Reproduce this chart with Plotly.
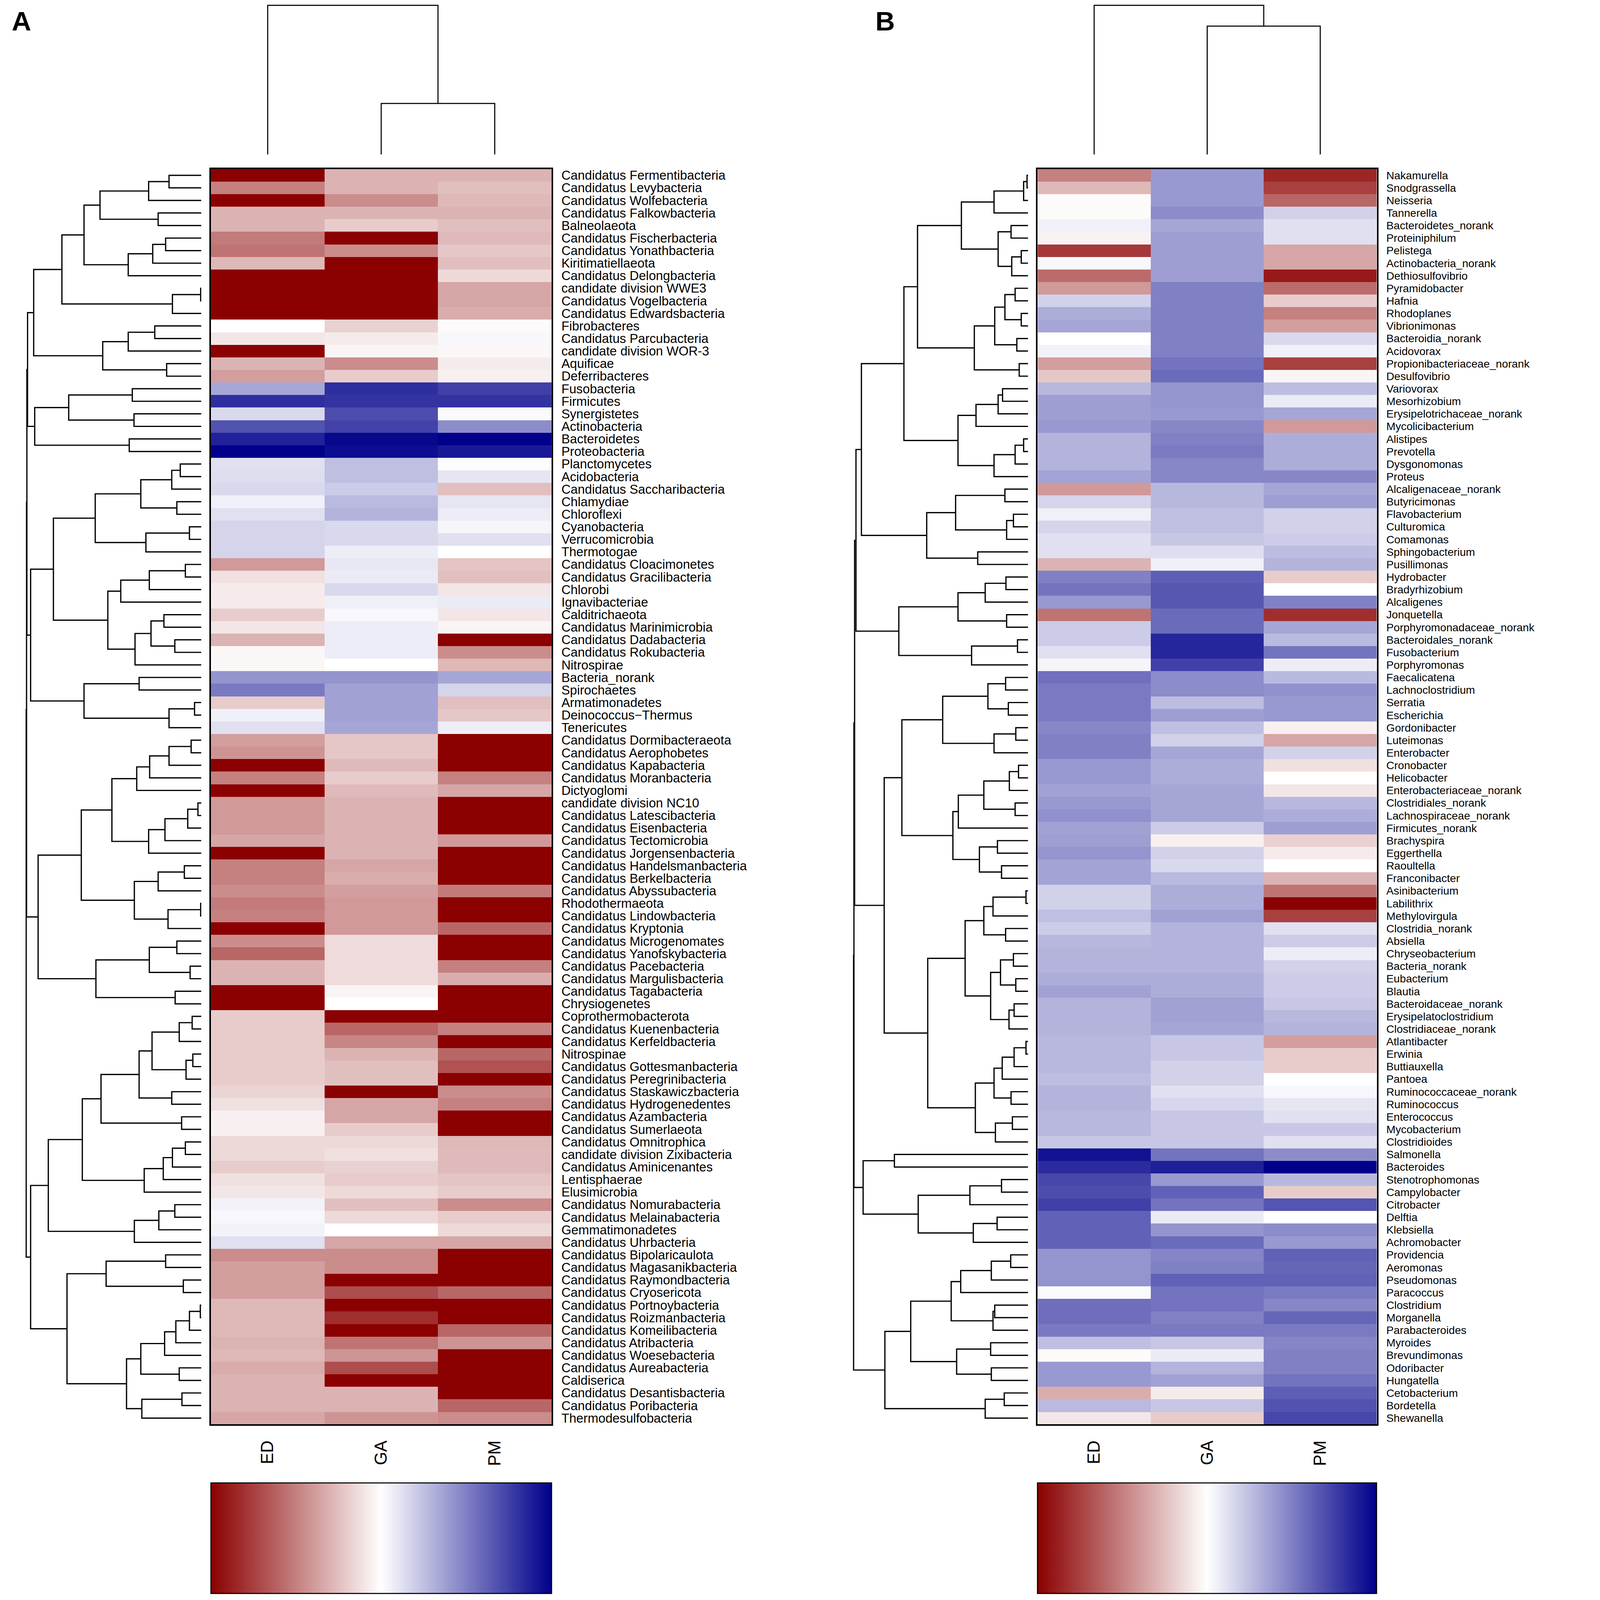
"""
Clustered heatmaps (phylum level A, genus level B) with row/column dendrograms
"""
import plotly.graph_objects as go

# target picture size and how the browser maps figure px onto it
W, H = 4328, 4499
S = 1.1      # page zoom seen in the photographed window
OFF = 8      # body margin of the html page
FW = int(W / S - OFF)
FH = int(H / S - OFF)

SAMPLES = ['ED', 'GA', 'PM']

# ---------------- Panel A: phyla ----------------
LABELS_A = [
    'Candidatus Fermentibacteria', 'Candidatus Levybacteria', 'Candidatus Wolfebacteria',
    'Candidatus Falkowbacteria', 'Balneolaeota', 'Candidatus Fischerbacteria',
    'Candidatus Yonathbacteria', 'Kiritimatiellaeota', 'Candidatus Delongbacteria',
    'candidate division WWE3', 'Candidatus Vogelbacteria', 'Candidatus Edwardsbacteria',
    'Fibrobacteres', 'Candidatus Parcubacteria', 'candidate division WOR-3', 'Aquificae',
    'Deferribacteres', 'Fusobacteria', 'Firmicutes', 'Synergistetes', 'Actinobacteria',
    'Bacteroidetes', 'Proteobacteria', 'Planctomycetes', 'Acidobacteria',
    'Candidatus Saccharibacteria', 'Chlamydiae', 'Chloroflexi', 'Cyanobacteria',
    'Verrucomicrobia', 'Thermotogae', 'Candidatus Cloacimonetes', 'Candidatus Gracilibacteria',
    'Chlorobi', 'Ignavibacteriae', 'Calditrichaeota', 'Candidatus Marinimicrobia',
    'Candidatus Dadabacteria', 'Candidatus Rokubacteria', 'Nitrospirae', 'Bacteria_norank',
    'Spirochaetes', 'Armatimonadetes', 'Deinococcus\u2212Thermus', 'Tenericutes',
    'Candidatus Dormibacteraeota', 'Candidatus Aerophobetes', 'Candidatus Kapabacteria',
    'Candidatus Moranbacteria', 'Dictyoglomi', 'candidate division NC10',
    'Candidatus Latescibacteria', 'Candidatus Eisenbacteria', 'Candidatus Tectomicrobia',
    'Candidatus Jorgensenbacteria', 'Candidatus Handelsmanbacteria', 'Candidatus Berkelbacteria',
    'Candidatus Abyssubacteria', 'Rhodothermaeota', 'Candidatus Lindowbacteria',
    'Candidatus Kryptonia', 'Candidatus Microgenomates', 'Candidatus Yanofskybacteria',
    'Candidatus Pacebacteria', 'Candidatus Margulisbacteria', 'Candidatus Tagabacteria',
    'Chrysiogenetes', 'Coprothermobacterota', 'Candidatus Kuenenbacteria',
    'Candidatus Kerfeldbacteria', 'Nitrospinae', 'Candidatus Gottesmanbacteria',
    'Candidatus Peregrinibacteria', 'Candidatus Staskawiczbacteria', 'Candidatus Hydrogenedentes',
    'Candidatus Azambacteria', 'Candidatus Sumerlaeota', 'Candidatus Omnitrophica',
    'candidate division Zixibacteria', 'Candidatus Aminicenantes', 'Lentisphaerae',
    'Elusimicrobia', 'Candidatus Nomurabacteria', 'Candidatus Melainabacteria',
    'Gemmatimonadetes', 'Candidatus Uhrbacteria', 'Candidatus Bipolaricaulota',
    'Candidatus Magasanikbacteria', 'Candidatus Raymondbacteria', 'Candidatus Cryosericota',
    'Candidatus Portnoybacteria', 'Candidatus Roizmanbacteria', 'Candidatus Komeilibacteria',
    'Candidatus Atribacteria', 'Candidatus Woesebacteria', 'Candidatus Aureabacteria',
    'Caldiserica', 'Candidatus Desantisbacteria', 'Candidatus Poribacteria',
    'Thermodesulfobacteria',
]

A_ED = [-1, -0.5, -1, -0.3, -0.3, -0.52, -0.55, -0.28, -1, -1,
        -1, -1, 0.0, -0.1, -1, -0.3, -0.38, 0.35, 0.82, 0.15,
        0.68, 0.87, 1.0, 0.12, 0.13, 0.15, 0.06, 0.12, 0.17, 0.17,
        0.17, -0.4, -0.12, -0.08, -0.08, -0.2, -0.1, -0.3, -0.03, -0.03,
        0.42, 0.52, -0.2, 0.06, 0.12, -0.38, -0.42, -1, -0.5, -1,
        -0.4, -0.4, -0.4, -0.35, -1, -0.5, -0.5, -0.45, -0.52, -0.5,
        -1, -0.45, -0.6, -0.3, -0.3, -1, -1, -0.2, -0.2, -0.2,
        -0.2, -0.2, -0.2, -0.17, -0.12, -0.06, -0.06, -0.15, -0.15, -0.2,
        -0.12, -0.1, 0.05, 0.03, 0.05, 0.12, -0.45, -0.38, -0.38, -0.38,
        -0.28, -0.28, -0.28, -0.3, -0.28, -0.33, -0.3, -0.3, -0.3, -0.35]
A_GA = [-0.3, -0.3, -0.45, -0.3, -0.2, -1, -0.45, -1, -1, -1,
        -1, -1, -0.18, -0.08, -0.04, -0.45, -0.2, 0.82, 0.8, 0.7,
        0.74, 0.97, 0.95, 0.25, 0.25, 0.2, 0.27, 0.3, 0.15, 0.15,
        0.07, 0.09, 0.08, 0.15, 0.06, 0.03, 0.07, 0.07, 0.07, 0.0,
        0.42, 0.37, 0.37, 0.37, 0.35, -0.22, -0.22, -0.27, -0.2, -0.27,
        -0.3, -0.3, -0.3, -0.3, -0.3, -0.35, -0.32, -0.38, -0.4, -0.4,
        -0.4, -0.14, -0.14, -0.14, -0.14, -0.04, 0.0, -1, -0.6, -0.48,
        -0.3, -0.25, -0.25, -1, -0.35, -0.35, -0.2, -0.15, -0.12, -0.18,
        -0.2, -0.15, -0.25, -0.15, 0.0, -0.35, -0.45, -0.45, -1, -0.7,
        -1, -0.82, -1, -0.55, -0.42, -0.7, -1, -0.3, -0.3, -0.42]
A_PM = [-0.3, -0.25, -0.28, -0.3, -0.25, -0.27, -0.22, -0.25, -0.15, -0.35,
        -0.35, -0.32, -0.02, 0.03, -0.03, -0.08, -0.06, 0.75, 0.8, 0.02,
        0.45, 1.0, 0.9, 0.01, 0.1, -0.25, 0.1, 0.07, 0.04, 0.12,
        0.0, -0.23, -0.25, -0.1, 0.08, -0.1, -0.04, -1, -0.45, -0.28,
        0.35, 0.17, -0.25, -0.22, 0.07, -1, -1, -1, -0.5, -0.35,
        -1, -1, -1, -0.4, -1, -1, -1, -0.52, -1, -1,
        -0.6, -1, -1, -0.5, -0.32, -1, -1, -1, -0.5, -1,
        -0.6, -0.68, -1, -0.45, -0.5, -1, -1, -0.28, -0.27, -0.27,
        -0.23, -0.2, -0.45, -0.2, -0.15, -0.35, -1, -1, -1, -0.6,
        -1, -1, -0.6, -0.42, -1, -1, -1, -1, -0.6, -0.45]

ROW_GAPS_A = [95, 155, 298, 127, 345, 105, 143, 215, 410, 2,
              85, 493, 137, 215, 290, 102, 511, 203, 390, 198,
              490, 212, 513, 62, 87, 178, 72, 312, 35, 163,
              435, 47, 153, 237, 275, 110, 148, 78, 195, 502,
              183, 345, 20, 95, 514, 30, 95, 152, 190, 263,
              10, 40, 107, 155, 353, 50, 127, 197, 2, 98,
              480, 72, 153, 33, 310, 77, 515, 27, 65, 145,
              25, 45, 183, 87, 295, 58, 350, 47, 85, 112,
              168, 450, 78, 125, 197, 502, 105, 280, 53, 395,
              3, 35, 75, 108, 178, 65, 220, 57, 175]
COL_GAPS_A = [430, 147]

# ---------------- Panel B: genera ----------------
LABELS_B = [
    'Nakamurella', 'Snodgrassella', 'Neisseria', 'Tannerella', 'Bacteroidetes_norank',
    'Proteiniphilum', 'Pelistega', 'Actinobacteria_norank', 'Dethiosulfovibrio',
    'Pyramidobacter', 'Hafnia', 'Rhodoplanes', 'Vibrionimonas', 'Bacteroidia_norank',
    'Acidovorax', 'Propionibacteriaceae_norank', 'Desulfovibrio', 'Variovorax',
    'Mesorhizobium', 'Erysipelotrichaceae_norank', 'Mycolicibacterium', 'Alistipes',
    'Prevotella', 'Dysgonomonas', 'Proteus', 'Alcaligenaceae_norank', 'Butyricimonas',
    'Flavobacterium', 'Culturomica', 'Comamonas', 'Sphingobacterium', 'Pusillimonas',
    'Hydrobacter', 'Bradyrhizobium', 'Alcaligenes', 'Jonquetella',
    'Porphyromonadaceae_norank', 'Bacteroidales_norank', 'Fusobacterium', 'Porphyromonas',
    'Faecalicatena', 'Lachnoclostridium', 'Serratia', 'Escherichia', 'Gordonibacter',
    'Luteimonas', 'Enterobacter', 'Cronobacter', 'Helicobacter', 'Enterobacteriaceae_norank',
    'Clostridiales_norank', 'Lachnospiraceae_norank', 'Firmicutes_norank', 'Brachyspira',
    'Eggerthella', 'Raoultella', 'Franconibacter', 'Asinibacterium', 'Labilithrix',
    'Methylovirgula', 'Clostridia_norank', 'Absiella', 'Chryseobacterium', 'Bacteria_norank',
    'Eubacterium', 'Blautia', 'Bacteroidaceae_norank', 'Erysipelatoclostridium',
    'Clostridiaceae_norank', 'Atlantibacter', 'Erwinia', 'Buttiauxella', 'Pantoea',
    'Ruminococcaceae_norank', 'Ruminococcus', 'Enterococcus', 'Mycobacterium',
    'Clostridioides', 'Salmonella', 'Bacteroides', 'Stenotrophomonas', 'Campylobacter',
    'Citrobacter', 'Delftia', 'Klebsiella', 'Achromobacter', 'Providencia', 'Aeromonas',
    'Pseudomonas', 'Paracoccus', 'Clostridium', 'Morganella', 'Parabacteroides', 'Myroides',
    'Brevundimonas', 'Odoribacter', 'Hungatella', 'Cetobacterium', 'Bordetella', 'Shewanella',
]

B_ED = [-0.5, -0.28, -0.02, -0.02, 0.06, -0.05, -0.78, 0.03, -0.58, -0.4,
        0.18, 0.32, 0.35, 0.0, 0.05, -0.38, -0.22, 0.28, 0.38, 0.38,
        0.4, 0.3, 0.3, 0.3, 0.36, -0.4, 0.17, 0.06, 0.17, 0.12,
        0.12, -0.3, 0.5, 0.55, 0.4, -0.55, 0.2, 0.2, 0.12, 0.04,
        0.56, 0.52, 0.52, 0.52, 0.47, 0.5, 0.5, 0.4, 0.4, 0.37,
        0.4, 0.43, 0.37, 0.38, 0.42, 0.36, 0.36, 0.18, 0.18, 0.25,
        0.2, 0.28, 0.3, 0.3, 0.32, 0.37, 0.3, 0.3, 0.3, 0.28,
        0.28, 0.28, 0.26, 0.3, 0.3, 0.28, 0.28, 0.22, 0.93, 0.83,
        0.72, 0.7, 0.75, 0.62, 0.62, 0.62, 0.42, 0.42, 0.42, 0.02,
        0.57, 0.57, 0.52, 0.25, -0.02, 0.4, 0.4, -0.32, 0.27, -0.1]
B_GA = [0.4, 0.4, 0.4, 0.45, 0.35, 0.38, 0.38, 0.38, 0.38, 0.5,
        0.5, 0.5, 0.5, 0.5, 0.5, 0.55, 0.58, 0.42, 0.42, 0.4,
        0.47, 0.5, 0.52, 0.47, 0.47, 0.28, 0.28, 0.25, 0.25, 0.22,
        0.13, 0.06, 0.63, 0.66, 0.66, 0.58, 0.58, 0.85, 0.85, 0.75,
        0.45, 0.45, 0.26, 0.38, 0.25, 0.18, 0.35, 0.32, 0.32, 0.35,
        0.35, 0.35, 0.2, -0.06, 0.18, 0.15, 0.27, 0.32, 0.32, 0.37,
        0.3, 0.3, 0.3, 0.3, 0.32, 0.32, 0.37, 0.37, 0.35, 0.22,
        0.22, 0.18, 0.18, 0.12, 0.16, 0.22, 0.22, 0.22, 0.55, 0.88,
        0.4, 0.62, 0.55, 0.08, 0.42, 0.58, 0.48, 0.5, 0.62, 0.55,
        0.55, 0.5, 0.52, 0.22, 0.08, 0.3, 0.37, -0.08, 0.22, -0.2]
B_PM = [-0.85, -0.75, -0.6, 0.18, 0.12, 0.12, -0.35, -0.35, -0.9, -0.58,
        -0.2, -0.5, -0.38, 0.15, 0.06, -0.75, -0.04, 0.26, 0.08, 0.35,
        -0.4, 0.32, 0.32, 0.32, 0.47, 0.35, 0.38, 0.18, 0.18, 0.2,
        0.26, 0.3, -0.2, 0.0, 0.5, -0.82, 0.35, 0.27, 0.55, 0.07,
        0.27, 0.43, 0.4, 0.4, -0.06, -0.35, 0.18, -0.12, 0.0, -0.1,
        0.28, 0.32, 0.38, -0.18, -0.08, 0.0, -0.3, -0.55, -1, -0.75,
        0.12, 0.2, 0.07, 0.18, 0.2, 0.2, 0.22, 0.28, 0.3, -0.38,
        -0.2, -0.2, 0.0, 0.03, 0.1, 0.12, 0.22, 0.12, 0.45, 1.0,
        0.28, -0.2, 0.67, 0.0, 0.45, 0.4, 0.62, 0.6, 0.62, 0.52,
        0.47, 0.6, 0.52, 0.48, 0.5, 0.5, 0.55, 0.63, 0.68, 0.72]

ROW_GAPS_B = [3, 13, 100, 196, 50, 88, 20, 48, 325, 38,
              68, 20, 98, 33, 158, 26, 365, 75, 88, 153,
              206, 13, 38, 100, 490, 68, 213, 43, 63, 298,
              148, 506, 65, 126, 206, 63, 380, 31, 166, 510,
              66, 118, 58, 251, 36, 100, 371, 28, 55, 130,
              38, 205, 221, 90, 143, 78, 423, 6, 103, 130,
              66, 185, 43, 81, 36, 110, 41, 56, 295, 6,
              41, 76, 100, 50, 155, 46, 96, 512, 393, 485,
              78, 171, 323, 91, 161, 513, 51, 108, 198, 226,
              98, 103, 345, 110, 210, 108, 421, 70, 126]
COL_GAPS_B = [430, 370]

COLORSCALE = [[0.0, '#8B0000'], [0.5, '#FFFFFF'], [1.0, '#00008B']]
FONT = 'Liberation Sans, Arial, sans-serif'


def tree_lines(gaps):
    """Rebuild an ordered dendrogram from neighbour merge heights.
    Returns (positions, heights) polyline coordinates with None breaks."""
    pos, hgt = [], []

    def build(a, b):
        if a == b:
            return a, 0.0
        k = max(range(a, b), key=lambda i: gaps[i])
        h = gaps[k]
        p1, h1 = build(a, k)
        p2, h2 = build(k + 1, b)
        pos.extend([p1, p1, p2, p2, None])
        hgt.extend([h1, h, h, h2, None])
        return (p1 + p2) / 2.0, h

    build(0, len(gaps))
    return pos, hgt


def fpx(t):
    """target picture px -> figure px"""
    return t / S - OFF


def clamp(v):
    return min(1.0, max(0.0, v))


def dx(a, b):
    return [clamp(fpx(a) / FW), clamp(fpx(b) / FW)]


def dy(top, bottom):
    return [clamp(1 - fpx(bottom) / FH), clamp(1 - fpx(top) / FH)]


def sz(v):
    return v / S


fig = go.Figure()

panels = [
    # labels, columns, row gaps, col gaps, heatmap x px, row dendro x px, label size, axis ids
    (LABELS_A, [A_ED, A_GA, A_PM], ROW_GAPS_A, COL_GAPS_A, (594, 1553), (69, 567), 36, ('', '2', '3')),
    (LABELS_B, [B_ED, B_GA, B_PM], ROW_GAPS_B, COL_GAPS_B, (2922, 3877), (2397, 2895), 31, ('4', '5', '6')),
]

HM_TOP, HM_BOT = 476, 4011
CB_TOP, CB_BOT = 4179, 4490
CD_TOP, CD_BOT = 13, 435
n_rows = 100

for labels, cols, rgaps, cgaps, hx, dxp, lsize, (s1, s2, s3) in panels:
    z = [[cols[c][r] for c in range(3)] for r in range(n_rows)]
    cb_x = dx(*hx)
    cb_y = dy(CB_TOP, CB_BOT)
    fig.add_trace(go.Heatmap(
        z=z, x=[0, 1, 2], y=list(range(n_rows)),
        colorscale=COLORSCALE, zmin=-1, zmax=1,
        xaxis='x' + s1, yaxis='y' + s1,
        hoverinfo='skip',
        colorbar=dict(orientation='h', thickness=sz(CB_BOT - CB_TOP), thicknessmode='pixels',
                      len=cb_x[1] - cb_x[0], lenmode='fraction',
                      x=(cb_x[0] + cb_x[1]) / 2, xanchor='center',
                      y=cb_y[0], yanchor='bottom', xpad=0, ypad=0,
                      outlinewidth=sz(3), outlinecolor='black',
                      showticklabels=False, ticks=''),
    ))

    # row dendrogram
    p, h = tree_lines(rgaps)
    fig.add_trace(go.Scatter(x=h, y=p, mode='lines', xaxis='x' + s2, yaxis='y' + s2,
                             line=dict(color='black', width=sz(3.5)), hoverinfo='skip'))
    # column dendrogram
    p, h = tree_lines(cgaps)
    fig.add_trace(go.Scatter(x=p, y=h, mode='lines', xaxis='x' + s3, yaxis='y' + s3,
                             line=dict(color='black', width=sz(3)), hoverinfo='skip'))

    box = dict(showline=True, mirror=True, linecolor='black', linewidth=sz(4),
               showgrid=False, zeroline=False, ticks='', automargin=False)
    fig.layout['xaxis' + s1] = dict(
        domain=dx(*hx), range=[-0.5, 2.5], anchor='y' + s1,
        tickmode='array', tickvals=[0, 1, 2], ticktext=SAMPLES, tickangle=-90,
        tickfont=dict(family=FONT, size=sz(48), color='black'),
        ticklabelstandoff=int(round(sz(22))), **box)
    fig.layout['yaxis' + s1] = dict(
        domain=dy(HM_TOP, HM_BOT), range=[n_rows - 0.5, -0.5], anchor='x' + s1, side='right',
        tickmode='array', tickvals=list(range(n_rows)), ticktext=labels,
        tickfont=dict(family=FONT, size=sz(lsize), color='black'),
        ticklabelstandoff=int(round(sz(16))), **box)
    fig.layout['xaxis' + s2] = dict(domain=dx(*dxp), range=[520, 0], anchor='y' + s2, visible=False)
    fig.layout['yaxis' + s2] = dict(domain=dy(HM_TOP, HM_BOT), range=[n_rows - 0.5, -0.5],
                                    anchor='x' + s2, visible=False)
    fig.layout['xaxis' + s3] = dict(domain=dx(*hx), range=[-0.5, 2.5], anchor='y' + s3, visible=False)
    fig.layout['yaxis' + s3] = dict(domain=dy(CD_TOP, CD_BOT), range=[0, 432], anchor='x' + s3,
                                    visible=False)

for letter, x0 in [('A', 31), ('B', 2463)]:
    fig.add_annotation(text='<b>%s</b>' % letter, x=clamp(fpx(x0) / FW), y=clamp(1 - fpx(14) / FH),
                       xref='paper', yref='paper', xanchor='left', yanchor='top', showarrow=False,
                       font=dict(family=FONT, size=sz(76), color='black'))

fig.update_layout(
    width=FW, height=FH,
    margin=dict(l=0, r=0, t=0, b=0, autoexpand=False),
    paper_bgcolor='white', plot_bgcolor='white',
    showlegend=False,
)

fig.write_html('out.html')
